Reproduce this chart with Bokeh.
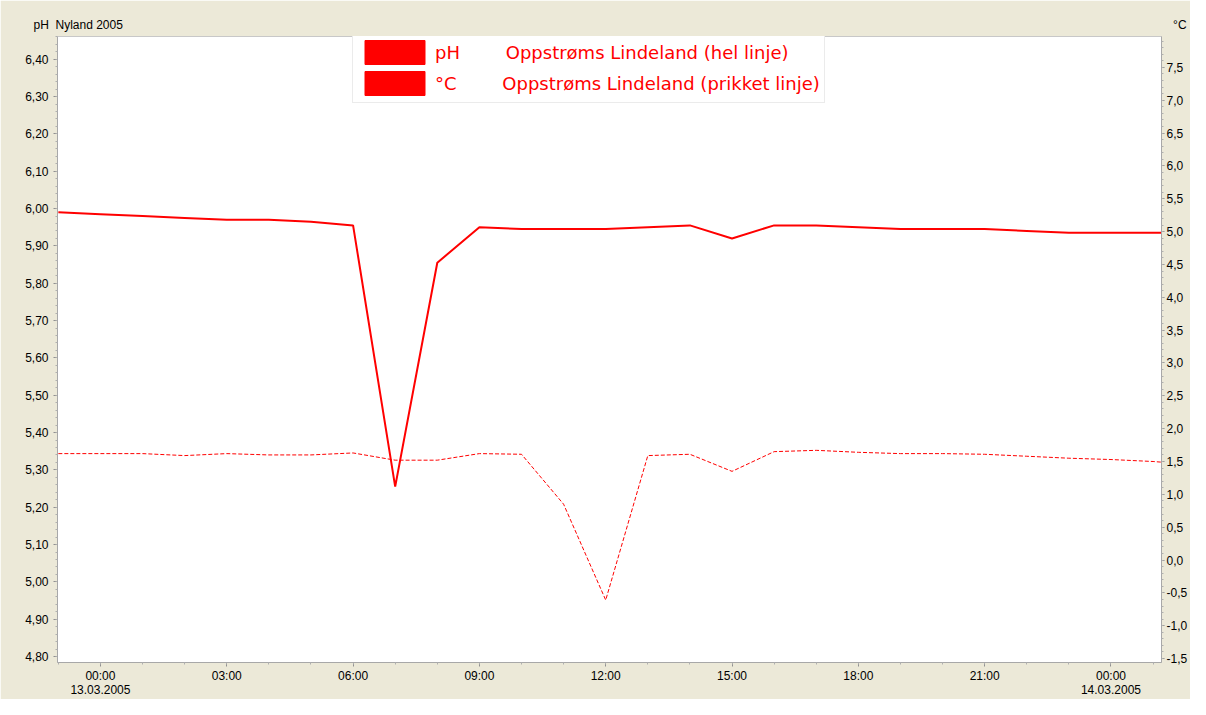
from bokeh.plotting import figure
from bokeh.models import (Range1d, LinearAxis, FixedTicker, CustomJSTickFormatter,
                          Legend, LegendItem)
from bokeh.embed import file_html
from bokeh.resources import INLINE

# ---- data (hours since 00:00 13.03.2005) ----
hours = [-1, 0, 1, 2, 3, 4, 5, 6, 7, 8, 9, 10, 11, 12, 13, 14, 15, 16, 17, 18,
         19, 20, 21, 22, 23, 24, 25, 25.4]
ph = [5.99, 5.985, 5.98, 5.975, 5.97, 5.97, 5.965, 5.955, 5.255, 5.855, 5.95,
      5.945, 5.945, 5.945, 5.95, 5.955, 5.92, 5.955, 5.955, 5.95, 5.945, 5.945,
      5.945, 5.94, 5.935, 5.935, 5.935, 5.935]
temp = [1.62, 1.62, 1.62, 1.59, 1.62, 1.60, 1.60, 1.63, 1.52, 1.52, 1.62, 1.61,
        0.85, -0.61, 1.59, 1.61, 1.35, 1.65, 1.67, 1.64, 1.62, 1.62, 1.61, 1.58,
        1.55, 1.53, 1.50, 1.48]

x_tick_hours = [0, 3, 6, 9, 12, 15, 18, 21, 24]
x_tick_labels = ["00:00\n13.03.2005", "03:00", "06:00", "09:00", "12:00",
                 "15:00", "18:00", "21:00", "00:00\n14.03.2005"]
x_minor_hours = list(range(-1, 26))
ph_ticks = [4.8, 4.9, 5.0, 5.1, 5.2, 5.3, 5.4, 5.5, 5.6, 5.7, 5.8, 5.9, 6.0,
            6.1, 6.2, 6.3, 6.4]
temp_ticks = [-1.5, -1.0, -0.5, 0.0, 0.5, 1.0, 1.5, 2.0, 2.5, 3.0, 3.5, 4.0,
              4.5, 5.0, 5.5, 6.0, 6.5, 7.0, 7.5]

title_text = "Nyland 2005"
left_unit = "pH"
right_unit = "°C"
legend_names = ["pH", "°C"]
legend_desc = ["Oppstrøms Lindeland (hel linje)", "Oppstrøms Lindeland (prikket linje)"]

# ---- layout ----
W, H = 1190, 699
BL, BR, BT, BB = 57, 24, 36, 34
FH = H - BT - BB
BG = "#ece9d8"
RED = "#ff0000"
FONT = "Liberation Sans"
NB = "\u00a0"

p = figure(width=W, height=H, output_backend="svg", toolbar_location=None,
           x_range=Range1d(-1.02, 25.2), y_range=Range1d(4.784, 6.461),
           min_border_left=BL, min_border_right=BR, min_border_top=BT,
           min_border_bottom=BB, background_fill_color="white",
           border_fill_color=BG, outline_line_color="#c8c8c8")
p.extra_y_ranges = {"temp": Range1d(-1.56, 7.97)}
p.grid.visible = False

# header line: "pH  Nyland 2005 ............ °C"
p.title.text = left_unit + NB * 2 + title_text + NB * 315 + right_unit
p.title.align = "left"
p.title.offset = -24
p.title.standoff = 10
p.title.text_font = FONT
p.title.text_font_size = "12px"
p.title.text_font_style = "normal"
p.title.text_color = "#000000"


def style_axis(ax):
    ax.axis_line_color = "#a8a8a8"
    ax.major_tick_line_color = "#909090"
    ax.minor_tick_line_color = "#b0b0b0"
    ax.major_tick_in = 0
    ax.major_tick_out = 4
    ax.minor_tick_in = 0
    ax.minor_tick_out = 2
    ax.major_label_text_font = FONT
    ax.major_label_text_font_size = "12px"
    ax.major_label_text_color = "#000000"


# x axis
xa = p.xaxis[0]
xa.ticker = FixedTicker(ticks=x_tick_hours, minor_ticks=x_minor_hours)
xa.major_label_overrides = {h: t for h, t in zip(x_tick_hours, x_tick_labels)}
style_axis(xa)
xa.major_label_standoff = 2
xa.major_label_text_line_height = 1.0

# left axis
ya = p.yaxis[0]
ya.ticker = FixedTicker(ticks=ph_ticks,
                        minor_ticks=[round(4.76 + 0.02 * i, 2) for i in range(86)])
ya.formatter = CustomJSTickFormatter(code="return tick.toFixed(2).replace('.', ',')")
ya.major_label_standoff = 5
style_axis(ya)

# right axis
ra = LinearAxis(y_range_name="temp",
                ticker=FixedTicker(ticks=temp_ticks,
                                   minor_ticks=[round(-1.6 + 0.1 * i, 1) for i in range(96)]),
                formatter=CustomJSTickFormatter(code="return tick.toFixed(1).replace('.', ',')"))
style_axis(ra)
ra.major_label_standoff = 2
ra.major_tick_out = 3
p.add_layout(ra, "right")

# data lines
p.line(hours, ph, line_color=RED, line_width=2)
p.line(hours, temp, y_range_name="temp", line_color=RED, line_width=1,
       line_dash="4 2")

# legend with red swatches (swatch renderers hold no visible data)
nan = float("nan")
sw1 = p.quad(left=[nan], right=[nan], top=[nan], bottom=[nan], fill_color=RED, line_color=RED)
sw2 = p.quad(left=[nan], right=[nan], top=[nan], bottom=[nan], fill_color=RED, line_color=RED)
gaps = [NB * 8, NB * 8]
items = [LegendItem(label=n + g + d, renderers=[r])
         for n, g, d, r in zip(legend_names, gaps, legend_desc, [sw1, sw2])]
leg = Legend(items=items, location=(295, FH - 70), glyph_width=75,
             glyph_height=30, label_height=30, label_standoff=3, spacing=1,
             padding=4, margin=0, label_text_color=RED,
             label_text_font="DejaVu Sans", label_text_font_size="18px",
             background_fill_color="white", background_fill_alpha=1.0,
             border_line_color="#d8d8d8")
p.add_layout(leg, "center")

open("out.html", "w").write(file_html(p, INLINE))
